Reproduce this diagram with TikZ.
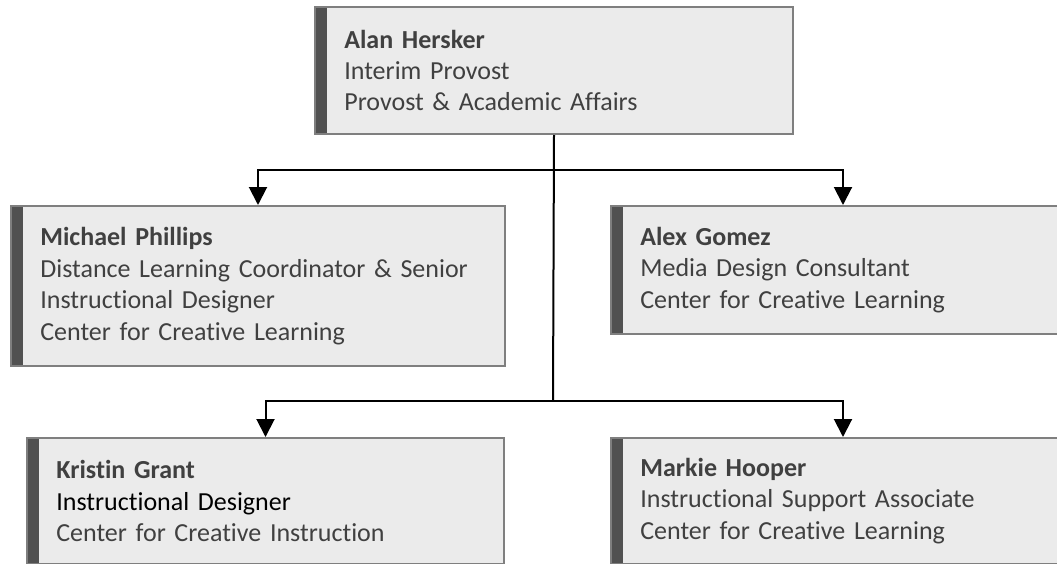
\documentclass[tikz,border=0pt]{standalone}
\usepackage{fontspec}
\setmainfont[Ligatures=NoCommon]{Carlito}
\usetikzlibrary{arrows.meta}
\definecolor{boxfill}{HTML}{EBEBEB}
\definecolor{boxline}{HTML}{7F7F7F}
\definecolor{boxbar}{HTML}{515151}
\definecolor{boxtext}{HTML}{404040}
\newcommand{\who}[1]{\textbf{#1}}
\tikzset{
  person/.style={draw=boxline, line width=1.5pt, fill=boxfill, anchor=north west,
    align=left, text=boxtext, inner xsep=22pt, inner ysep=0pt,
    font=\fontsize{19.5pt}{23.6pt}\selectfont,
    path picture={\fill[boxbar] (path picture bounding box.north west)
      rectangle ([xshift=9pt]path picture bounding box.south west);}},
  link/.style={line width=1.5pt},
  arr/.style={line width=1.5pt, -{Triangle[width=13.5pt,length=13.5pt]}}
}
\begin{document}
\begin{tikzpicture}[x=0.75pt, y=-0.75pt]
        \path[use as bounding box] (0, 0) rectangle (1057, 564);
        \clip (0, 0) rectangle (1057, 564);
        \node[person, text width=314.5pt, minimum height=95.25pt] (hersker) at (314, 6)
          {\who{Alan Hersker}\\Interim Provost\\Provost \& Academic Affairs};
        \node[person, text width=326.5pt, minimum height=120pt] (phillips) at (10, 205)
          {\who{Michael Phillips}\\\mbox{Distance Learning Coordinator \& Senior}\\Instructional Designer\\Center for Creative Learning};
        \node[person, text width=304pt, minimum height=96pt] (gomez) at (610, 205)
          {\who{Alex Gomez}\\Media Design Consultant\\Center for Creative Learning};
        \node[person, text width=313.75pt, minimum height=94.5pt] (grant) at (26, 437)
          {\who{Kristin Grant}\\\textcolor{black}{Instructional Designer}\\Center for Creative Instruction};
        \node[person, text width=304pt, minimum height=94.5pt] (hooper) at (610, 437)
          {\who{Markie Hooper}\\Instructional Support Associate\\Center for Creative Learning};
        \coordinate (upper) at (553, 170);
        \coordinate (lower) at (553, 401);
        \draw[link] (hersker.south) -- (lower);
        \draw[arr] (upper) -| (phillips.north);
        \draw[arr] (upper) -| (gomez.north);
        \draw[arr] (lower) -| (grant.north);
        \draw[arr] (lower) -| (hooper.north);
\end{tikzpicture}
\end{document}
